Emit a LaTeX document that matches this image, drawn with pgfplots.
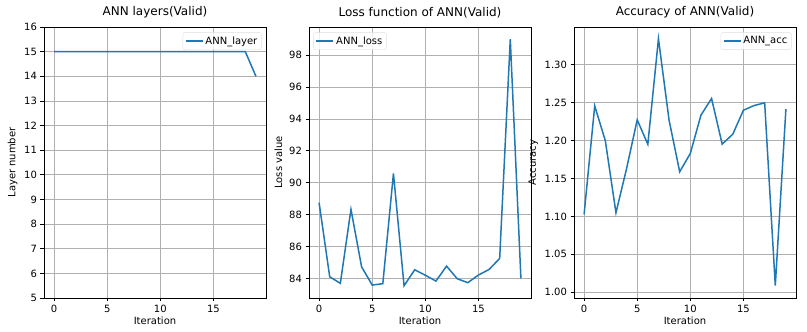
\documentclass[border=0pt]{standalone}
\usepackage{fontspec}
\setmainfont{DejaVu Sans}
\usepackage{pgfplots}
\pgfplotsset{compat=1.18}
\definecolor{tabblue}{HTML}{1F77B4}
\definecolor{gridgray}{HTML}{B0B0B0}

\pgfplotsset{
  annstyle/.style={
    scale only axis,
    width=222pt, height=271pt,
    anchor=south west,
    xmin=-0.95, xmax=19.95,
    xtick={0,5,10,15},
    grid=major,
    grid style={gridgray, line width=0.8pt},
    axis line style={line width=0.8pt},
    tick align=outside,
    major tick length=3.5pt,
    tick style={black, line width=0.8pt},
    xtick pos=bottom, ytick pos=left,
    /pgf/number format/assume math mode=true,
    tick label style={font=\fontsize{10}{12}\selectfont},
    label style={font=\fontsize{10}{12}\selectfont},
    title style={font=\fontsize{12}{14}\selectfont, yshift=-1pt},
    xlabel={Iteration},
    xlabel style={yshift=3pt},
    legend style={draw=gray!25, rounded corners=2pt, fill=white, fill opacity=0.8, text opacity=1,
      font=\fontsize{10}{12}\selectfont, inner sep=2pt},
    legend cell align=left,
  },
}

\begin{document}
\begin{tikzpicture}
\useasboundingbox (0pt,0pt) rectangle (807pt,332pt);

\begin{axis}[annstyle, at={(44pt,34pt)},
  title={ANN layers(Valid)},
  ylabel={Layer number},
  ymin=5, ymax=16, ytick={5,6,...,16},
  legend style={at={(0.98,0.98)}, anchor=north east}]
\addplot[tabblue, line width=1.5pt] coordinates {
(0,15)(1,15)(2,15)(3,15)(4,15)(5,15)(6,15)(7,15)(8,15)(9,15)
(10,15)(11,15)(12,15)(13,15)(14,15)(15,15)(16,15)(17,15)(18,15)(19,14)};
\addlegendentry{ANN\_layer}
\end{axis}

\begin{axis}[annstyle, at={(309pt,34pt)},
  title={Loss function of ANN(Valid)},
  ylabel={Loss value},
  ymin=82.77, ymax=99.77, ytick={84,86,...,98},
  legend style={at={(0.02,0.98)}, anchor=north west}]
\addplot[tabblue, line width=1.5pt] coordinates {
(0,88.75)(1,84.10)(2,83.69)(3,88.33)(4,84.73)(5,83.58)(6,83.67)(7,90.58)(8,83.54)(9,84.54)
(10,84.20)(11,83.83)(12,84.77)(13,83.98)(14,83.73)(15,84.21)(16,84.56)(17,85.25)(18,99.00)(19,84.00)};
\addlegendentry{ANN\_loss}
\end{axis}

\begin{axis}[annstyle, at={(574pt,34pt)},
  title={Accuracy of ANN(Valid)},
  ylabel={Accuracy},
  ymin=0.9925, ymax=1.3495, ytick={1.00,1.05,...,1.31},
  yticklabel style={/pgf/number format/.cd, fixed, fixed zerofill, precision=2},
  legend style={at={(0.98,0.98)}, anchor=north east}]
\addplot[tabblue, line width=1.5pt] coordinates {
(0,1.1026)(1,1.2456)(2,1.1996)(3,1.1048)(4,1.1630)(5,1.2272)(6,1.1950)(7,1.3340)(8,1.2268)(9,1.1588)
(10,1.1829)(11,1.2333)(12,1.2553)(13,1.1952)(14,1.2083)(15,1.2399)(16,1.2460)(17,1.2496)(18,1.0088)(19,1.2412)};
\addlegendentry{ANN\_acc}
\end{axis}
\end{tikzpicture}
\end{document}
